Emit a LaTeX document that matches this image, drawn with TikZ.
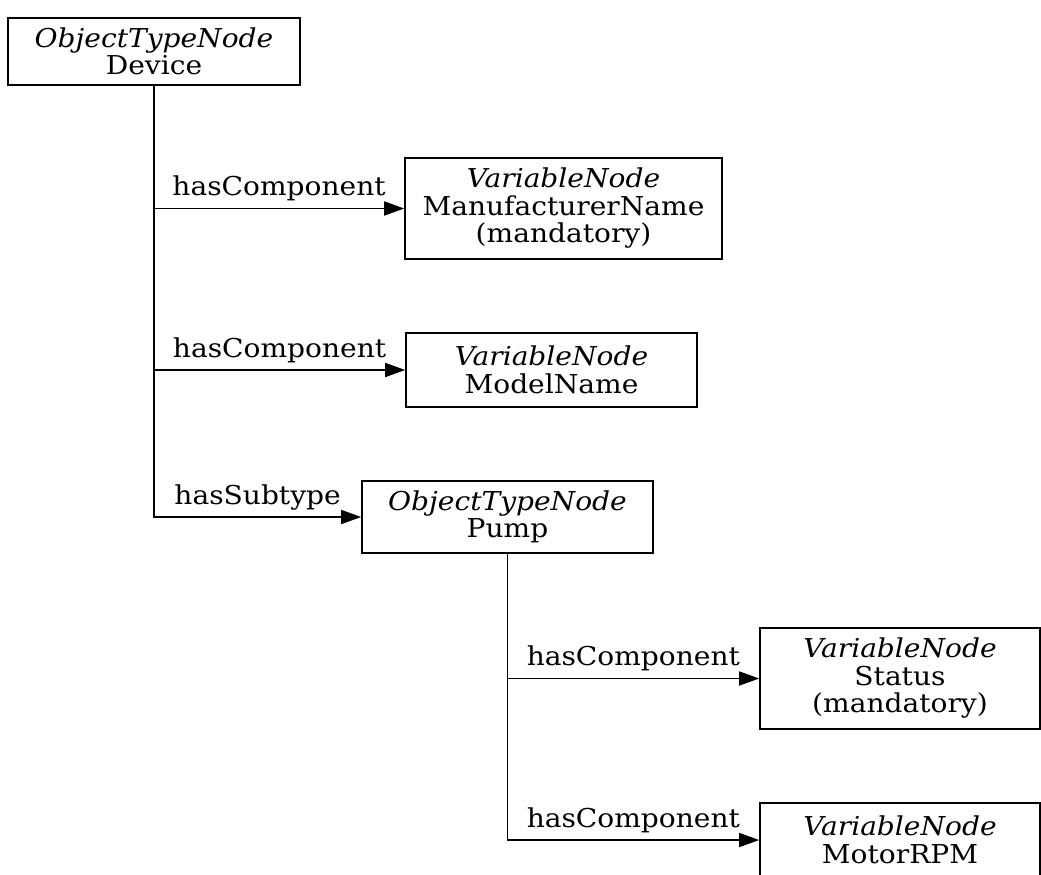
\documentclass[tikz,border=0pt]{standalone}
\usepackage{fontspec}
\setmainfont{DejaVu Serif}[FakeStretch=1.08]
\usetikzlibrary{arrows.meta}

\begin{document}
\begin{tikzpicture}[x=1pt,y=-1pt,line width=1.6pt,
	box/.style={rectangle,draw,align=center,inner sep=0pt,font=\fontsize{26}{27.5}\selectfont},
	rel/.style={-{Triangle[length=20pt,width=14pt]}},
	lbl/.style={anchor=base,yshift=13pt,inner sep=0pt,font=\fontsize{26}{27.5}\selectfont}]

	\clip (0,0) rectangle (1041,875);
	\useasboundingbox (0,0) rectangle (1041,875);

		\node[box,minimum width=292pt,minimum height=67pt] (device) at (154,51.5)
			{\textit{ObjectTypeNode}\\Device};
		\node[box,minimum width=317pt,minimum height=101pt] (manuf) at (563.5,208.5)
			{\textit{VariableNode}\\ManufacturerName\\(mandatory)};
		\node[box,minimum width=291pt,minimum height=74pt] (model) at (551.5,370)
			{\textit{VariableNode}\\ModelName};
		\node[box,minimum width=291pt,minimum height=72pt] (pump) at (507.5,517)
			{\textit{ObjectTypeNode}\\Pump};
		\node[box,minimum width=280pt,minimum height=101pt] (status) at (900,678.5)
			{\textit{VariableNode}\\Status\\(mandatory)};
		\node[box,minimum width=280pt,minimum height=74pt] (motor) at (900,840)
			{\textit{VariableNode}\\MotorRPM};

		\draw[rel] (device.south) |- (manuf.west)
			node[lbl,pos=0.75] {hasComponent};
		\draw[rel] (device.south) |- (model.west)
			node[lbl,pos=0.75] {hasComponent};
		\draw[rel] (device.south) |- (pump.west)
			node[lbl,pos=0.75] {hasSubtype};

		\draw[rel] (pump.south) |- (status.west)
			node[lbl,pos=0.75] {hasComponent};
		\draw[rel] (pump.south) |- (motor.west)
			node[lbl,pos=0.75] {hasComponent};

	\end{tikzpicture}
\end{document}
